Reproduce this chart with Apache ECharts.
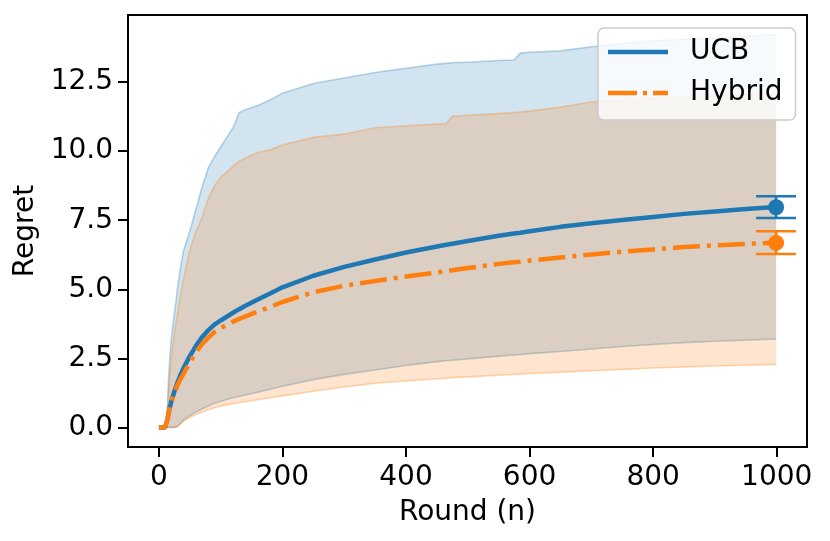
<!DOCTYPE html>
<html>
<head>
<meta charset="utf-8">
<script src="https://cdn.jsdelivr.net/npm/echarts@6/dist/echarts.min.js"></script>
<style>
html,body{margin:0;padding:0;background:#fff;}
#chart{width:830px;height:541px;}
</style>
</head>
<body>
<div id="chart"></div>
<script>
const rounds      = [0,5,10,12,14,16,18,20,25,30,35,40,50,60,70,80,90,100,120,130,140,160,180,200,250,300,350,400,450,465,475,500,550,575,585,600,650,700,750,800,850,900,950,999];
const ucbMean     = [0,0,0,0.02,0.3,0.55,0.75,0.93,1.3,1.62,1.9,2.15,2.58,2.95,3.27,3.52,3.72,3.87,4.15,4.28,4.4,4.63,4.85,5.07,5.49,5.81,6.08,6.33,6.55,6.61,6.65,6.75,6.94,7.02,7.05,7.1,7.26,7.39,7.51,7.62,7.73,7.82,7.91,7.98];
const hybridMean  = [0,0,0,0.02,0.3,0.55,0.74,0.9,1.25,1.52,1.75,1.95,2.35,2.72,3.02,3.25,3.45,3.6,3.83,3.93,4.02,4.19,4.36,4.54,4.89,5.13,5.3,5.46,5.61,5.66,5.69,5.77,5.92,5.98,6.0,6.04,6.15,6.26,6.36,6.44,6.53,6.59,6.64,6.69];
const ucbUpper    = [0,0,0,0,0.9,1.9,2.6,3.2,4.1,5.0,5.8,6.4,7.1,7.9,8.7,9.4,9.8,10.15,10.85,11.4,11.5,11.65,11.85,12.1,12.45,12.65,12.85,13.0,13.15,13.18,13.2,13.22,13.28,13.3,13.55,13.58,13.63,13.78,13.9,14.0,14.05,14.1,14.15,14.22];
const ucbLower    = [0,0,0,0,0,0,0,0,0,0.03,0.15,0.27,0.42,0.56,0.67,0.77,0.87,0.95,1.07,1.12,1.17,1.27,1.38,1.49,1.73,1.92,2.08,2.24,2.38,2.41,2.43,2.48,2.58,2.62,2.64,2.67,2.75,2.84,2.93,3.0,3.07,3.12,3.16,3.2];
const hybridUpper = [0,0,0,0,0.6,1.4,2.0,2.5,3.4,4.1,4.8,5.4,6.4,7.1,7.6,8.3,8.75,9.05,9.45,9.64,9.75,9.95,10.05,10.22,10.5,10.62,10.85,10.92,10.98,11.0,11.26,11.3,11.36,11.4,11.42,11.45,11.6,11.78,11.85,11.9,11.95,12.0,12.05,12.1];
const hybridLower = [0,0,0,0,0,0,0,0,0,0.02,0.13,0.23,0.36,0.47,0.56,0.64,0.71,0.77,0.86,0.9,0.93,1.0,1.07,1.14,1.31,1.46,1.6,1.68,1.76,1.78,1.8,1.83,1.89,1.92,1.93,1.95,2.0,2.05,2.1,2.15,2.19,2.22,2.25,2.28];
// error bars: [round, mean, low, high]
const ucbErr      = [999, 7.97, 7.58, 8.37];
const hybridErr   = [999, 6.68, 6.28, 7.10];
const xTicks      = [0,200,400,600,800,1000];
const yTicks      = [0,2.5,5,7.5,10,12.5];

const BLUE = '#1f77b4', ORANGE = '#ff7f0e';
const FONT = 'DejaVu Sans';

function pairs(arr){ return rounds.map((n,i)=>[n, arr[i]]); }

// band drawn as a polygon through the chart's own coordinate system
function bandRender(upper, lower, rgb){
  return function(params, api){
    const top = rounds.map((n,i)=>api.coord([n, upper[i]]));
    const bot = rounds.map((n,i)=>api.coord([n, lower[i]])).reverse();
    return {type:'group', children:[
      {type:'polygon', shape:{points: top.concat(bot)}, style:{fill:'rgba('+rgb+',0.2)', stroke:'none'}},
      {type:'polyline', shape:{points: top}, style:{fill:'none', stroke:'rgba('+rgb+',0.3)', lineWidth:1.6}},
      {type:'polyline', shape:{points: bot}, style:{fill:'none', stroke:'rgba('+rgb+',0.3)', lineWidth:1.6}}
    ]};
  };
}

function errRender(color){
  return function(params, api){
    const x = api.value(0), m = api.value(1), lo = api.value(2), hi = api.value(3);
    const pLo = api.coord([x, lo]), pHi = api.coord([x, hi]), pM = api.coord([x, m]);
    const cw = 20;
    const st = {stroke: color, lineWidth: 2.6};
    return {type:'group', children:[
      {type:'line', shape:{x1:pLo[0], y1:pLo[1], x2:pHi[0], y2:pHi[1]}, style:st},
      {type:'line', shape:{x1:pLo[0]-cw, y1:pLo[1], x2:pLo[0]+cw, y2:pLo[1]}, style:st},
      {type:'line', shape:{x1:pHi[0]-cw, y1:pHi[1], x2:pHi[0]+cw, y2:pHi[1]}, style:st},
      {type:'circle', shape:{cx:pM[0], cy:pM[1], r:8}, style:{fill: color}}
    ]};
  };
}

const ICON_SOLID   = 'path://M0,0H60V4.5H0Z';
const ICON_DASHDOT = 'path://M0,0H29V4.5H0Z M35,0H39V4.5H35Z M45,0H60V4.5H45Z';

const chart = echarts.init(document.getElementById('chart'), null, {renderer:'canvas'});
const option = {
  animation: false,
  grid: {left:128, right:23, top:15, bottom:94, show:true, borderColor:'#000', borderWidth:2, backgroundColor:'#fff'},
  legend: {
    data: [{name:'UCB', icon:ICON_SOLID}, {name:'Hybrid', icon:ICON_DASHDOT}],
    orient: 'vertical',
    left: 598, top: 28,
    padding: [9, 13, 12, 10],
    itemWidth: 60, itemHeight: 4.5, itemGap: 11,
    backgroundColor: 'rgba(255,255,255,0.8)',
    borderColor: '#cccccc', borderWidth: 1.5, borderRadius: 6,
    textStyle: {fontFamily: FONT, fontSize: 28, color:'#000', lineHeight: 30, padding:[0,0,0,17]}
  },
  xAxis: {
    type:'value', min:-50, max:1049,
    name:'Round (n)', nameLocation:'middle', nameGap:52,
    nameTextStyle:{fontFamily:FONT, fontSize:28, color:'#000'},
    axisLine:{show:true, onZero:false, lineStyle:{color:'#000', width:2}},
    axisTick:{show:true, length:10, lineStyle:{color:'#000', width:2}, customValues: xTicks},
    axisLabel:{fontFamily:FONT, fontSize:28, color:'#000', margin:17, customValues: xTicks,
      formatter: v => String(v)},
    splitLine:{show:false}
  },
  yAxis: {
    type:'value', min:-0.71, max:14.93,
    name:'Regret', nameLocation:'middle', nameGap:86, nameRotate:90,
    nameTextStyle:{fontFamily:FONT, fontSize:28, color:'#000'},
    axisLine:{show:true, onZero:false, lineStyle:{color:'#000', width:2}},
    axisTick:{show:true, length:10, lineStyle:{color:'#000', width:2}, customValues: yTicks},
    axisLabel:{fontFamily:FONT, fontSize:28, color:'#000', margin:15, customValues: yTicks,
      formatter: v => Number(v).toFixed(1)},
    splitLine:{show:false}
  },
  series: [
    {name:'ucbBand', type:'custom', renderItem: bandRender(ucbUpper, ucbLower, '31,119,180'), data:[[0,0]], silent:true, z:1},
    {name:'hybBand', type:'custom', renderItem: bandRender(hybridUpper, hybridLower, '255,127,14'), data:[[0,0]], silent:true, z:1},
    {name:'UCB', type:'line', data:pairs(ucbMean), symbol:'none', smooth:false, z:3,
      itemStyle:{color:BLUE},
      lineStyle:{color:BLUE, width:4.5, cap:'butt'}},
    {name:'Hybrid', type:'line', data:pairs(hybridMean), symbol:'none', smooth:false, z:3,
      itemStyle:{color:ORANGE},
      lineStyle:{color:ORANGE, width:4.5, type:[27,7,4,7], cap:'butt'}},
    {name:'ucbErr', type:'custom', renderItem: errRender(BLUE), data:[ucbErr], z:5, silent:true},
    {name:'hybErr', type:'custom', renderItem: errRender(ORANGE), data:[hybridErr], z:5, silent:true}
  ]
};
chart.setOption(option);
</script>
</body>
</html>
